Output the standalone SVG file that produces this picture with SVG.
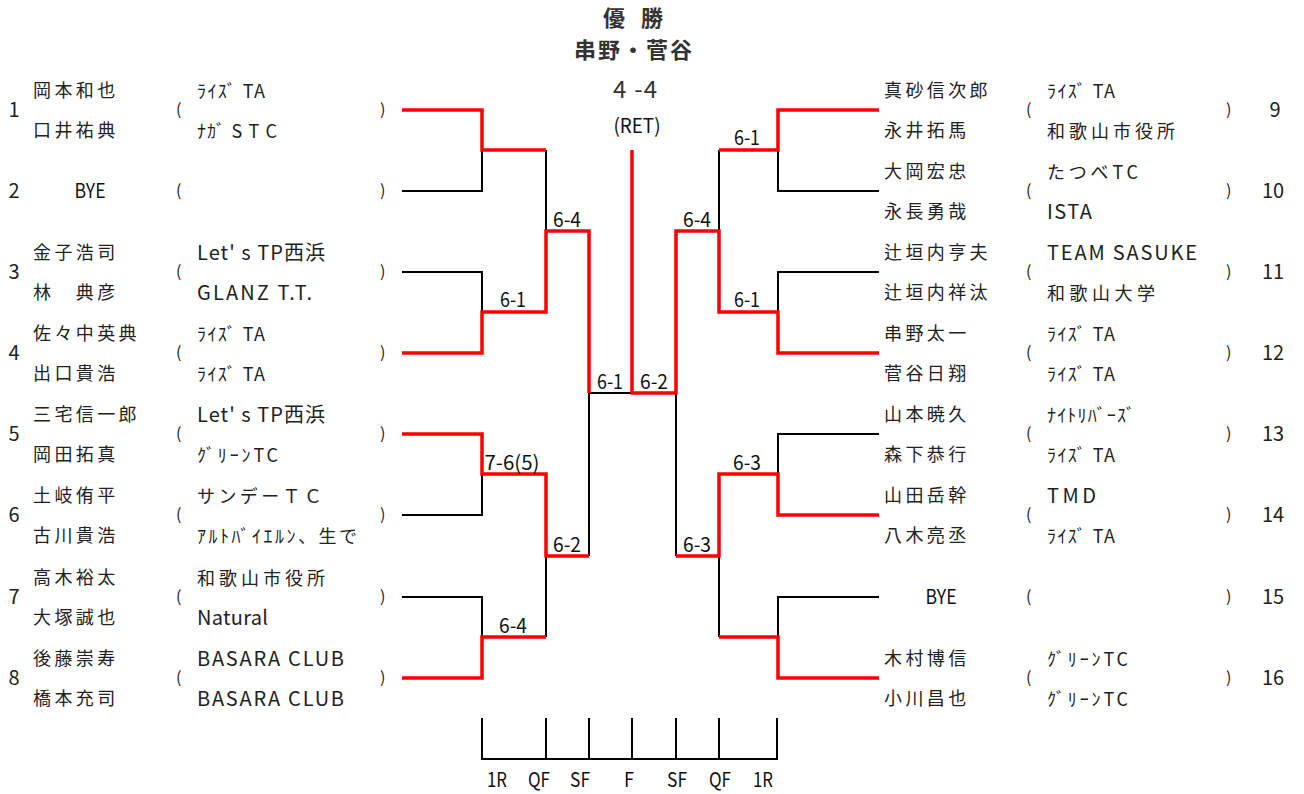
<svg xmlns="http://www.w3.org/2000/svg" width="1304" height="794" viewBox="0 0 1304 794">
<style>
text{font-family:"Noto Sans CJK JP","Noto Sans",sans-serif;fill:#222}
.nm{font-size:18px;letter-spacing:3.4px}
.tm{font-size:18px}
.tl{font-size:20px}
.no{font-size:20px;text-anchor:middle}
.pr{font-size:16px}
.cd{font-size:20px;text-anchor:middle;fill:#111}
.rn{font-size:20px;text-anchor:middle;fill:#111}
.by{font-size:19.5px;text-anchor:middle;fill:#111}
.ttl{font-size:22px;font-weight:bold;text-anchor:middle;fill:#333}
.bk{fill:none;stroke:#000;stroke-width:2}
.rd{fill:none;stroke:#ff0000;stroke-width:3.5}
</style>
<rect width="1304" height="794" fill="#fff"/>
<g id="title">
<text class="ttl" x="633" y="26" textLength="60" lengthAdjust="spacing">優 勝</text>
<text class="ttl" x="633" y="58" textLength="118" lengthAdjust="spacing">串野・菅谷</text>
<text x="635" y="98" style="font-size:24px;text-anchor:middle;fill:#333" textLength="44" lengthAdjust="spacing">4 -4</text>
<text class="cd" x="637" y="133" textLength="47" lengthAdjust="spacingAndGlyphs">(RET)</text>
</g>
<g id="connectors">
<path class="bk" d="M402,191H482V150M402,272H482V312M482,474V515H402M402,597H482V637M546,150V231M546,556V637M589,393V556M589,393H632"/>
<path class="bk" d="M879,191H778V150M879,272H778V312M879,434H778V474M879,597H778V637M719,150V231M719,556V637M676,393V556"/>
<path class="bk" d="M482,718V759H777V718M546,718V759M589,718V759M632,718V759M676,718V759M719,718V759"/>
<path class="rd" d="M402,110H482V150H546"/>
<path class="rd" d="M402,353H482V312H546V231H589V393"/>
<path class="rd" d="M402,434H482V474H546V556H589"/>
<path class="rd" d="M402,678H482V637H546"/>
<path class="rd" d="M879,110H778V150H719"/>
<path class="rd" d="M879,353H778V312H719V231H676V393H632V150"/>
<path class="rd" d="M879,515H778V474H719V556H676"/>
<path class="rd" d="M879,678H778V637H719"/>
</g>
<g id="scores">
<text class="cd" x="513" y="307" textLength="26" lengthAdjust="spacingAndGlyphs">6-1</text>
<text class="cd" x="567" y="227" textLength="28" lengthAdjust="spacingAndGlyphs">6-4</text>
<text class="cd" x="610" y="389" textLength="26" lengthAdjust="spacingAndGlyphs">6-1</text>
<text class="cd" x="654" y="389" textLength="28" lengthAdjust="spacingAndGlyphs">6-2</text>
<text class="cd" x="697" y="227" textLength="28" lengthAdjust="spacingAndGlyphs">6-4</text>
<text class="cd" x="747" y="145" textLength="26" lengthAdjust="spacingAndGlyphs">6-1</text>
<text class="cd" x="747" y="307" textLength="26" lengthAdjust="spacingAndGlyphs">6-1</text>
<text class="cd" x="512" y="470" textLength="55" lengthAdjust="spacingAndGlyphs">7-6(5)</text>
<text class="cd" x="567" y="552" textLength="28" lengthAdjust="spacingAndGlyphs">6-2</text>
<text class="cd" x="513" y="633" textLength="28" lengthAdjust="spacingAndGlyphs">6-4</text>
<text class="cd" x="747" y="470" textLength="28" lengthAdjust="spacingAndGlyphs">6-3</text>
<text class="cd" x="697" y="552" textLength="28" lengthAdjust="spacingAndGlyphs">6-3</text>
</g>
<g id="rounds">
<text class="rn" x="497" y="787" textLength="20" lengthAdjust="spacingAndGlyphs">1R</text>
<text class="rn" x="539" y="787" textLength="22" lengthAdjust="spacingAndGlyphs">QF</text>
<text class="rn" x="580" y="787" textLength="20" lengthAdjust="spacingAndGlyphs">SF</text>
<text class="rn" x="629" y="787" textLength="10" lengthAdjust="spacingAndGlyphs">F</text>
<text class="rn" x="677" y="787" textLength="20" lengthAdjust="spacingAndGlyphs">SF</text>
<text class="rn" x="720" y="787" textLength="22" lengthAdjust="spacingAndGlyphs">QF</text>
<text class="rn" x="763" y="787" textLength="20" lengthAdjust="spacingAndGlyphs">1R</text>
</g>
<g id="entry1">
<text class="no" x="14" y="117">1</text>
<text class="nm" x="33" y="97">岡本和也</text><text class="nm" x="33" y="137">口井祐典</text>
<text class="pr" x="176" y="115">(</text><text class="pr" x="380" y="115">)</text>
<text class="tm" x="197" y="98" textLength="68" lengthAdjust="spacing">ﾗｲｽﾞ TA</text>
<text class="tm" x="197" y="138" textLength="80" lengthAdjust="spacing">ﾅｶﾞ S T C</text>
</g>
<g id="entry2">
<text class="no" x="14" y="198">2</text>
<text class="by" x="90" y="198" textLength="31" lengthAdjust="spacingAndGlyphs">BYE</text>
<text class="pr" x="176" y="196">(</text><text class="pr" x="380" y="196">)</text>
</g>
<g id="entry3">
<text class="no" x="14" y="279">3</text>
<text class="nm" x="33" y="259">金子浩司</text><text class="nm" x="33" y="299">林　典彦</text>
<text class="pr" x="176" y="277">(</text><text class="pr" x="380" y="277">)</text>
<text class="tl" x="197" y="260" textLength="128" lengthAdjust="spacing">Let' s TP西浜</text>
<text class="tl" x="197" y="300" textLength="115" lengthAdjust="spacing">GLANZ T.T.</text>
</g>
<g id="entry4">
<text class="no" x="14" y="360">4</text>
<text class="nm" x="33" y="340">佐々中英典</text><text class="nm" x="33" y="380">出口貴浩</text>
<text class="pr" x="176" y="358">(</text><text class="pr" x="380" y="358">)</text>
<text class="tm" x="197" y="341" textLength="68" lengthAdjust="spacing">ﾗｲｽﾞ TA</text>
<text class="tm" x="197" y="381" textLength="68" lengthAdjust="spacing">ﾗｲｽﾞ TA</text>
</g>
<g id="entry5">
<text class="no" x="14" y="441">5</text>
<text class="nm" x="33" y="421">三宅信一郎</text><text class="nm" x="33" y="461">岡田拓真</text>
<text class="pr" x="176" y="439">(</text><text class="pr" x="380" y="439">)</text>
<text class="tl" x="197" y="422" textLength="128" lengthAdjust="spacing">Let' s TP西浜</text>
<text class="tm" x="197" y="462" textLength="81" lengthAdjust="spacing">ｸﾞﾘｰﾝTC</text>
</g>
<g id="entry6">
<text class="no" x="14" y="522">6</text>
<text class="nm" x="33" y="502">土岐侑平</text><text class="nm" x="33" y="542">古川貴浩</text>
<text class="pr" x="176" y="520">(</text><text class="pr" x="380" y="520">)</text>
<text class="tm" x="197" y="503" textLength="125" lengthAdjust="spacing">サンデーＴＣ</text>
<text class="tm" x="197" y="543" textLength="160" lengthAdjust="spacing">ｱﾙﾄﾊﾞｲｴﾙﾝ、生で</text>
</g>
<g id="entry7">
<text class="no" x="14" y="604">7</text>
<text class="nm" x="33" y="584">高木裕太</text><text class="nm" x="33" y="624">大塚誠也</text>
<text class="pr" x="176" y="602">(</text><text class="pr" x="380" y="602">)</text>
<text class="tm" x="197" y="585" textLength="128" lengthAdjust="spacing">和歌山市役所</text>
<text class="tl" x="197" y="625" textLength="71" lengthAdjust="spacing">Natural</text>
</g>
<g id="entry8">
<text class="no" x="14" y="685">8</text>
<text class="nm" x="33" y="665">後藤崇寿</text><text class="nm" x="33" y="705">橋本充司</text>
<text class="pr" x="176" y="683">(</text><text class="pr" x="380" y="683">)</text>
<text class="tl" x="197" y="666" textLength="147" lengthAdjust="spacing">BASARA CLUB</text>
<text class="tl" x="197" y="706" textLength="147" lengthAdjust="spacing">BASARA CLUB</text>
</g>
<g id="entry9">
<text class="no" x="1275" y="117">9</text>
<text class="nm" x="884" y="97">真砂信次郎</text><text class="nm" x="884" y="137">永井拓馬</text>
<text class="pr" x="1026" y="115">(</text><text class="pr" x="1226" y="115">)</text>
<text class="tm" x="1047" y="98" textLength="68" lengthAdjust="spacing">ﾗｲｽﾞ TA</text>
<text class="tm" x="1047" y="138" textLength="128" lengthAdjust="spacing">和歌山市役所</text>
</g>
<g id="entry10">
<text class="no" x="1273" y="198">10</text>
<text class="nm" x="884" y="178">大岡宏忠</text><text class="nm" x="884" y="218">永長勇哉</text>
<text class="pr" x="1026" y="196">(</text><text class="pr" x="1226" y="196">)</text>
<text class="tm" x="1047" y="179" textLength="91" lengthAdjust="spacing">たつべTC</text>
<text class="tl" x="1047" y="219" textLength="45" lengthAdjust="spacing">ISTA</text>
</g>
<g id="entry11">
<text class="no" x="1273" y="279">11</text>
<text class="nm" x="884" y="259">辻垣内亨夫</text><text class="nm" x="884" y="299">辻垣内祥汰</text>
<text class="pr" x="1026" y="277">(</text><text class="pr" x="1226" y="277">)</text>
<text class="tl" x="1047" y="260" textLength="150" lengthAdjust="spacing">TEAM SASUKE</text>
<text class="tm" x="1047" y="300" textLength="108" lengthAdjust="spacing">和歌山大学</text>
</g>
<g id="entry12">
<text class="no" x="1273" y="360">12</text>
<text class="nm" x="884" y="340">串野太一</text><text class="nm" x="884" y="380">菅谷日翔</text>
<text class="pr" x="1026" y="358">(</text><text class="pr" x="1226" y="358">)</text>
<text class="tm" x="1047" y="341" textLength="68" lengthAdjust="spacing">ﾗｲｽﾞ TA</text>
<text class="tm" x="1047" y="381" textLength="68" lengthAdjust="spacing">ﾗｲｽﾞ TA</text>
</g>
<g id="entry13">
<text class="no" x="1273" y="441">13</text>
<text class="nm" x="884" y="421">山本暁久</text><text class="nm" x="884" y="461">森下恭行</text>
<text class="pr" x="1026" y="439">(</text><text class="pr" x="1226" y="439">)</text>
<text class="tm" x="1047" y="422" textLength="88" lengthAdjust="spacing">ﾅｲﾄﾘﾊﾞｰｽﾞ</text>
<text class="tm" x="1047" y="462" textLength="68" lengthAdjust="spacing">ﾗｲｽﾞ TA</text>
</g>
<g id="entry14">
<text class="no" x="1273" y="522">14</text>
<text class="nm" x="884" y="502">山田岳幹</text><text class="nm" x="884" y="542">八木亮丞</text>
<text class="pr" x="1026" y="520">(</text><text class="pr" x="1226" y="520">)</text>
<text class="tl" x="1047" y="503" textLength="49" lengthAdjust="spacing">TMD</text>
<text class="tm" x="1047" y="543" textLength="68" lengthAdjust="spacing">ﾗｲｽﾞ TA</text>
</g>
<g id="entry15">
<text class="no" x="1273" y="604">15</text>
<text class="by" x="941" y="604" textLength="31" lengthAdjust="spacingAndGlyphs">BYE</text>
<text class="pr" x="1026" y="602">(</text><text class="pr" x="1226" y="602">)</text>
</g>
<g id="entry16">
<text class="no" x="1273" y="685">16</text>
<text class="nm" x="884" y="665">木村博信</text><text class="nm" x="884" y="705">小川昌也</text>
<text class="pr" x="1026" y="683">(</text><text class="pr" x="1226" y="683">)</text>
<text class="tm" x="1047" y="666" textLength="81" lengthAdjust="spacing">ｸﾞﾘｰﾝTC</text>
<text class="tm" x="1047" y="706" textLength="81" lengthAdjust="spacing">ｸﾞﾘｰﾝTC</text>
</g>
</svg>
